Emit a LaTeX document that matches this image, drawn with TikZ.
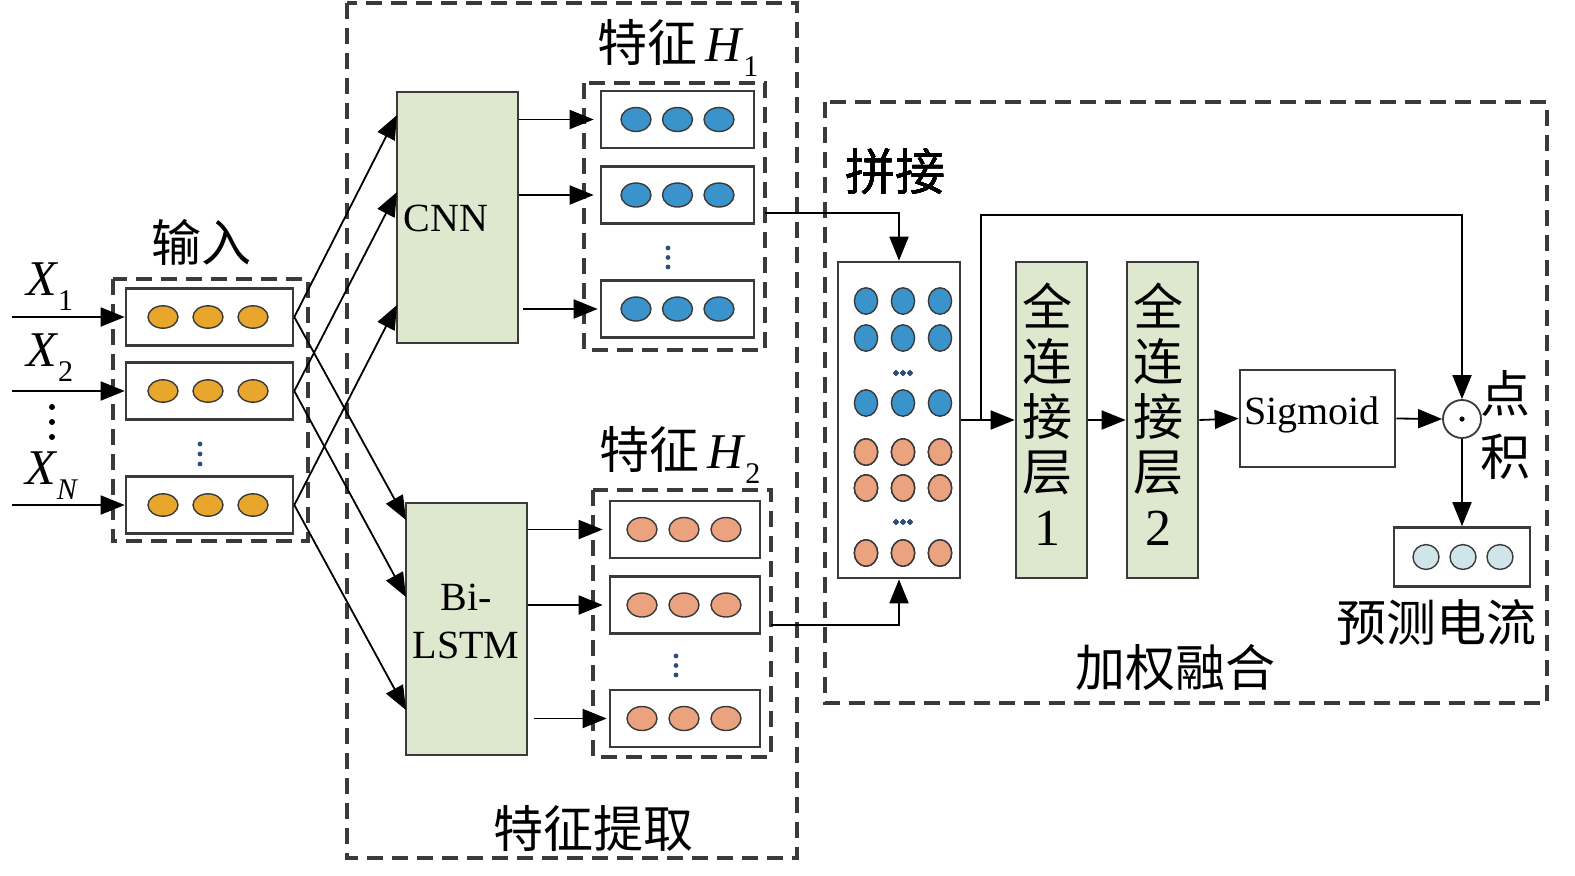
\documentclass[tikz,border=0pt]{standalone}
\usepackage{fontspec}
\setmainfont{Liberation Serif}
\newfontfamily\cjk{Noto Sans CJK SC}
\usetikzlibrary{arrows.meta,calc}
\definecolor{gold}{HTML}{E8A62C}
\definecolor{blu}{HTML}{3A93CB}
\definecolor{sal}{HTML}{EAA27F}
\definecolor{lgreen}{HTML}{DEE8CF}
\definecolor{lcyan}{HTML}{CFE5EA}
\definecolor{bord}{HTML}{3A3A3A}
\definecolor{dotc}{HTML}{2A4F7A}
\newcommand\threeov[5]{% color, y, x0, dx, rx/ry
  \foreach \i in {0,1,2}{\filldraw[fill=#1,draw=bord,line width=0.7pt] ({#3+\i*#4},#2) ellipse [#5];}}
\newcommand\xsub[2]{\textit{#1}\kern-0.5pt\raisebox{-0.3em}{\fontsize{15}{15}\selectfont #2}}
\begin{document}
\begin{tikzpicture}[x=0.5pt,y=-0.5pt,
 box/.style={draw=bord, line width=1.3pt, inner sep=0pt},
 rowbox/.style={box, fill=white, minimum width=#1, minimum height=28.5pt},
 grp/.style={draw=bord, dash pattern=on 8pt off 4.5pt, line width=1.6pt},
 fcbox/.style={box, fill=lgreen},
 arr/.style={-{Triangle[length=12pt,width=9.5pt]}, line width=0.9pt, draw=black},
 cj/.style={font=\cjk\fontsize{25}{28}\selectfont, inner sep=0pt},
 lat/.style={font=\fontsize{20}{24}\selectfont, inner sep=0pt},
]
\useasboundingbox (0,0) rectangle (1575,875);

% ---------- group frames ----------
\draw[grp] (113,279) rectangle (308,541);
\draw[grp] (347,3) rectangle (797,858);
\draw[grp] (584,83) rectangle (765,350);
\draw[grp] (593,490) rectangle (771,757);
\draw[grp] (825,102) rectangle (1547,703);

% ---------- input ----------
\node[rowbox=83.5pt] (in1) at (209.5,317) {};
\node[rowbox=83.5pt] (in2) at (209.5,391) {};
\node[rowbox=83.5pt] (in3) at (209.5,505) {};
\threeov{gold}{317}{163}{45}{x radius=7.5pt,y radius=5.6pt}
\threeov{gold}{391}{163}{45}{x radius=7.5pt,y radius=5.6pt}
\threeov{gold}{505}{163}{45}{x radius=7.5pt,y radius=5.6pt}
\foreach \yy in {444,454,464} \fill[dotc] (200,\yy) circle (1.2pt);
\node[cj] (lin) at (201,242) {输入};

\coordinate (s1) at (12,317);
\coordinate (s2) at (12,391);
\coordinate (s3) at (12,505);
\draw[arr] (s1) -- (in1.west);
\draw[arr] (s2) -- (in2.west);
\draw[arr] (s3) -- (in3.west);
\node[font=\fontsize{25}{28}\selectfont, inner sep=0pt] (lx1) at (50,287) {\xsub{X}{1}};
\node[font=\fontsize{25}{28}\selectfont, inner sep=0pt] (lx2) at (50,358) {\xsub{X}{2}};
\node[font=\fontsize{25}{28}\selectfont, inner sep=0pt] (lxn) at (52,476) {\xsub{X}{\textit{N}}};
\foreach \yy in {407,422,437} \fill (52,\yy) circle (1.5pt);

% ---------- CNN / BiLSTM ----------
\node[fcbox, minimum width=60.5pt, minimum height=125.5pt] (cnn) at (457.5,217.5) {};
\node[lat] at (446,218) {CNN};
\node[fcbox, minimum width=60.5pt, minimum height=126pt] (lstm) at (466.5,629) {};
\node[lat, align=center, font=\fontsize{20}{24}\selectfont] at (466,621) {Bi-\\LSTM};

\coordinate (ca) at (397,115);
\coordinate (cb) at (397,192);
\coordinate (cc) at (397,305);
\coordinate (la) at (406,520);
\coordinate (lb) at (406,597);
\coordinate (lc) at (406,710);
\draw[arr] (in1.east) -- (ca);
\draw[arr] (in2.east) -- (cb);
\draw[arr] (in3.east) -- (cc);
\draw[arr] (in1.east) -- (la);
\draw[arr] (in2.east) -- (lb);
\draw[arr] (in3.east) -- (lc);

% ---------- feature H1 ----------
\node[rowbox=76.5pt] (h1a) at (677.5,119.5) {};
\node[rowbox=76.5pt] (h1b) at (677.5,195) {};
\node[rowbox=76.5pt] (h1c) at (677.5,309) {};
\threeov{blu}{119.5}{636}{41.5}{x radius=7.5pt,y radius=6pt}
\threeov{blu}{195}{636}{41.5}{x radius=7.5pt,y radius=6pt}
\threeov{blu}{309}{636}{41.5}{x radius=7.5pt,y radius=6pt}
\foreach \yy in {248,257.5,267} \fill[dotc] (668,\yy) circle (1.2pt);
\node[cj] (lh1) at (678,48) {特征\,{\rmfamily\fontsize{25}{28}\selectfont\xsub{H}{1}}};

\draw[arr,shorten >=3pt] (cnn.east |- h1a) -- (h1a.west);
\draw[arr,shorten >=3pt] (cnn.east |- h1b) -- (h1b.west);
\draw[arr,shorten >=1pt] ([xshift=2pt]cnn.east |- h1c) -- (h1c.west);

% ---------- feature H2 ----------
\node[rowbox=75pt] (h2a) at (685,529.5) {};
\node[rowbox=75pt] (h2b) at (685,605) {};
\node[rowbox=75pt] (h2c) at (685,718.5) {};
\threeov{sal}{529.5}{642}{42}{x radius=7.5pt,y radius=6pt}
\threeov{sal}{605}{642}{42}{x radius=7.5pt,y radius=6pt}
\threeov{sal}{718.5}{642}{42}{x radius=7.5pt,y radius=6pt}
\foreach \yy in {656,665.5,675} \fill[dotc] (676,\yy) circle (1.2pt);
\node[cj] (lh2) at (680,455) {特征\,{\rmfamily\fontsize{25}{28}\selectfont\xsub{H}{2}}};

\draw[arr,shorten >=3pt] (lstm.east |- h2a) -- (h2a.west);
\draw[arr,shorten >=3pt] (lstm.east |- h2b) -- (h2b.west);
\draw[arr,shorten >=1pt] ([xshift=3pt]lstm.east |- h2c) -- (h2c.west);

\node[cj] (lfe) at (593,828) {特征提取};

% ---------- concatenation ----------
\node[box, fill=white, minimum width=61pt, minimum height=158pt] (cat) at (899,420) {};
\foreach \yy in {301,338,403} \threeov{blu}{\yy}{866}{37}{x radius=5.8pt,y radius=6.6pt}
\foreach \yy in {452,488,553} \threeov{sal}{\yy}{866}{37}{x radius=5.8pt,y radius=6.6pt}
\foreach \xx in {896,903,910} {\fill[dotc] (\xx,373) circle (1.2pt); \fill[dotc] (\xx,522) circle (1.2pt);}
\node[cj] (lcat) at (895,172) {拼接};

\coordinate (h1o) at (765,213);
\coordinate (h2o) at (771,625);
\draw[arr] (h1o) -| (cat.north);
\draw[arr] (h2o) -| (cat.south);

% ---------- fully connected ----------
\node[fcbox, minimum width=35.5pt, minimum height=158pt] (fc1) at (1051.5,420) {};
\node[fcbox, minimum width=35.5pt, minimum height=158pt] (fc2) at (1162.5,420) {};
\node[cj, align=center, font=\cjk\fontsize{25}{27.5}\selectfont] at (1047,414) {全\\连\\接\\层\\{\rmfamily\fontsize{26}{27.5}\selectfont 1}};
\node[cj, align=center, font=\cjk\fontsize{25}{27.5}\selectfont] at (1158,414) {全\\连\\接\\层\\{\rmfamily\fontsize{26}{27.5}\selectfont 2}};

\coordinate (br) at (981,420);
\draw[arr] (cat.east) -- (fc1.west);
\draw[arr] (fc1.east) -- (fc2.west);

% ---------- sigmoid, dot product, output ----------
\node[box, fill=white, minimum width=77.5pt, minimum height=48.5pt] (sig) at (1317.5,418.5) {};
\node[lat] at (1312,415) {Sigmoid};
\node[circle, draw=bord, line width=0.9pt, minimum size=19pt, inner sep=0pt, fill=white] (dot) at (1462,419) {};
\fill (dot.center) circle (1.3pt);
\node[cj] (ld1) at (1505,393) {点};
\node[cj] (ld2) at (1505,457) {积};
\node[box, fill=white, minimum width=68pt, minimum height=29.5pt] (out) at (1462,557) {};
\threeov{lcyan}{557}{1426}{37}{x radius=6.5pt,y radius=6.2pt}
\node[cj] (lout) at (1436,622) {预测电流};
\node[cj] (lfus) at (1175,668) {加权融合};

\draw[arr] (fc2.east) -- (sig.west);
\draw[arr] (sig.east) -- (dot.west);
\draw[arr] (br) -- ++(0,-205) -| (dot.north);
\draw[arr] (dot.south) -- (out.north);
\end{tikzpicture}
\end{document}
